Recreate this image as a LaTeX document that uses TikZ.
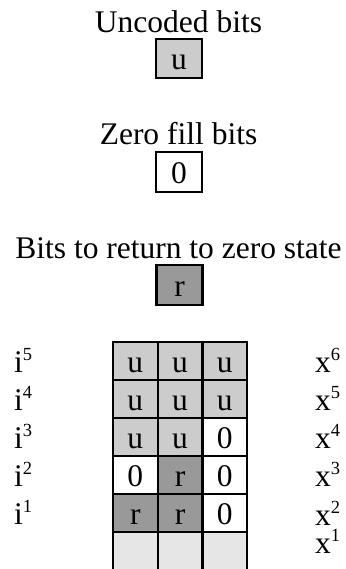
\documentclass[tikz,border=0pt]{standalone}
\usepackage{fontspec}
\setmainfont{Liberation Serif}
\definecolor{ugray}{HTML}{CCCCCC}
\definecolor{rgray}{HTML}{999999}
\definecolor{lgray}{HTML}{E6E6E6}
\newcommand{\supl}[1]{\raisebox{12pt}{\fontsize{18.5}{20}\selectfont #1}}
\tikzset{
  big/.style={font=\fontsize{31.5}{36}\selectfont, inner sep=0pt},
  title/.style={big, anchor=base},
  cell/.style={big, draw=black, line width=2.2pt, minimum width=44.7pt, minimum height=38pt,
    text height=22pt, text depth=0pt, anchor=center},
  keybox/.style={cell, minimum width=46pt, minimum height=39.5pt},
  lab/.style={big, anchor=base west},
}
\begin{document}
\begin{tikzpicture}[x=1pt,y=-1pt]
\useasboundingbox (0,0) rectangle (345,569);
% legend
\node[title] (t1) at (178.5,33) {Uncoded bits};
\node[keybox, fill=ugray] (ku) at (179,58.5) {u};
\node[title] (t2) at (178.5,145) {Zero fill bits};
\node[keybox, fill=white] (kz) at (179,172) {0};
\node[title] (t3) at (178.5,258) {Bits to return to zero state};
\node[keybox, fill=rgray] (kr) at (179.5,285) {r};
% grid
\foreach \r/\a/\b/\c/\fa/\fb/\fc in {
  1/u/u/u/ugray/ugray/ugray,
  2/u/u/u/ugray/ugray/ugray,
  3/u/u/0/ugray/ugray/white,
  4/0/r/0/white/rgray/white,
  5/r/r/0/rgray/rgray/white,
  6/{}/{}/{}/lgray/lgray/lgray}{
  \node[cell, fill=\fa] (c\r1) at (135.35, {342+38*(\r-0.5)}) {\a};
  \node[cell, fill=\fb] (c\r2) at (180.05, {342+38*(\r-0.5)}) {\b};
  \node[cell, fill=\fc] (c\r3) at (224.75, {342+38*(\r-0.5)}) {\c};
}
% row labels
\node[lab] (i5) at (14,372) {i\supl{5}};
\node[lab] (i4) at (14,410) {i\supl{4}};
\node[lab] (i3) at (14,448) {i\supl{3}};
\node[lab] (i2) at (14,486) {i\supl{2}};
\node[lab] (i1) at (14,524) {i\supl{1}};
\node[lab] (x6) at (315,372) {x\supl{6}};
\node[lab] (x5) at (315,410) {x\supl{5}};
\node[lab] (x4) at (315,448) {x\supl{4}};
\node[lab] (x3) at (315,486) {x\supl{3}};
\node[lab] (x2) at (315,525) {x\supl{2}};
\node[lab] (x1) at (315,553) {x\supl{1}};
\end{tikzpicture}
\end{document}
